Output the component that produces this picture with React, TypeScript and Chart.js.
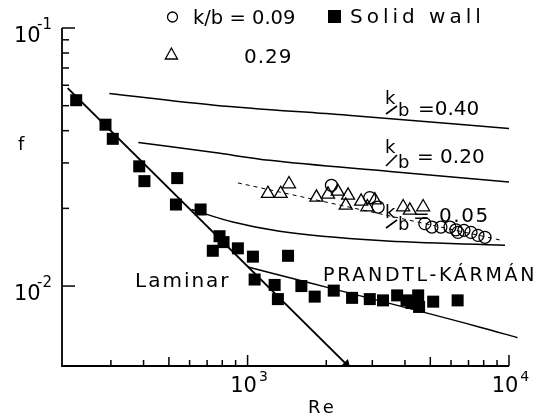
import React, { useEffect, useRef } from "react";
import { Chart, registerables } from "chart.js";
Chart.register(...registerables);

// ---- data (Re, f) ----
const solidRe = [221, 286, 305, 385, 403, 538, 532, 661, 781, 809, 736, 918, 1048, 1428, 1064, 1269, 1306, 1606, 1806, 2136, 2510, 2934, 3297, 3733, 4055, 4237, 4493, 4530, 5128, 6361];
const solidF = [0.0525, 0.0422, 0.0372, 0.0291, 0.0255, 0.0262, 0.0207, 0.0198, 0.0156, 0.0148, 0.0137, 0.014, 0.013, 0.0131, 0.0106, 0.0101, 0.0089, 0.01, 0.0091, 0.0096, 0.009, 0.0089, 0.0088, 0.0092, 0.0088, 0.0086, 0.0092, 0.0083, 0.0087, 0.0088];

const tri029Re = [1196, 1338, 1440, 1834, 2031, 2212, 2423, 2374, 2718, 2871, 3067, 3936, 4176, 4694];
const tri029F = [0.0228, 0.0228, 0.02485, 0.02207, 0.02266, 0.02328, 0.02247, 0.02055, 0.02129, 0.02024, 0.02154, 0.02024, 0.01965, 0.02024];

const circ009Re = [2093, 2934, 3157, 4766, 5070, 5490, 5943, 6266, 6376, 6723, 7153, 7607, 8091];
const circ009F = [0.02457, 0.02202, 0.02024, 0.01745, 0.01693, 0.01693, 0.01693, 0.01652, 0.01614, 0.01644, 0.01614, 0.01572, 0.01545];

const laminarRe = [205, 2390];
const laminarF = [0.0585, 0.00497];

const pkRe = [1003, 7745, 10770];
const pkF = [0.01185, 0.00693, 0.00631];

const kb040Re = [296, 747, 2415, 10000];
const kb040F = [0.0557, 0.0502, 0.0459, 0.0408];

const kb020Re = [382, 747, 1214, 3504, 10000];
const kb020F = [0.036, 0.0329, 0.0307, 0.0278, 0.0253];

const kb005Re = [610, 878, 1326, 3204, 9654];
const kb005F = [0.0198, 0.0177, 0.0163, 0.015, 0.0144];

const fitRe = [918, 9484];
const fitF = [0.0251, 0.015];

const xTickValues = [300, 400, 500, 600, 700, 800, 900, 1000, 2000, 3000, 4000, 5000, 6000, 7000, 8000, 9000, 10000];
const yTickValues = [0.01, 0.02, 0.03, 0.04, 0.05, 0.06, 0.07, 0.08, 0.09, 0.1];
const xLabelExps = [[1000, "3"], [10000, "4"]] as [number, string][];
const yLabelExps = [[0.1, "-1"], [0.01, "-2"]] as [number, string][];

const FONT = '"DejaVu Sans"';

const pts = (xs: number[], ys: number[]) => xs.map((x, i) => ({ x, y: ys[i] }));

function txt(ctx: CanvasRenderingContext2D, s: string, x: number, y: number, size: number, spacing = 0, align: CanvasTextAlign = "left") {
  ctx.font = `${size}px ${FONT}`;
  (ctx as any).letterSpacing = `${spacing}px`;
  ctx.textAlign = align;
  ctx.textBaseline = "alphabetic";
  ctx.fillStyle = "#000";
  ctx.fillText(s, x, y);
  (ctx as any).letterSpacing = "0px";
}

function kbLabel(ctx: CanvasRenderingContext2D, x: number, kBase: number, bBase: number, vx: number, vBase: number, v: string, sp = 0) {
  txt(ctx, "k", x, kBase, 18);
  ctx.beginPath();
  ctx.lineWidth = 1.6;
  ctx.strokeStyle = "#000";
  ctx.moveTo(x + 1, bBase - 2);
  ctx.lineTo(x + 12, kBase + 2);
  ctx.stroke();
  txt(ctx, "b", x + 13, bBase, 18);
  txt(ctx, v, vx, vBase, 20, sp);
}

const overlay = {
  id: "overlay",
  afterDraw(chart: any) {
    const ctx: CanvasRenderingContext2D = chart.ctx;
    const xs = chart.scales.x;
    const ys = chart.scales.y;
    const { left, right, top, bottom } = chart.chartArea;
    ctx.save();
    ctx.strokeStyle = "#000";
    ctx.lineCap = "butt";
    // axes
    ctx.lineWidth = 1.8;
    ctx.beginPath();
    ctx.moveTo(left, top);
    ctx.lineTo(left, bottom);
    ctx.lineTo(right, bottom);
    ctx.stroke();
    // ticks (inward)
    ctx.lineWidth = 1.5;
    xTickValues.forEach((v) => {
      const px = xs.getPixelForValue(v);
      const lg = Math.log10(v);
      const len = Math.abs(lg - Math.round(lg)) < 1e-6 ? 11 : (v === 500 || v === 5000 ? 9 : 6);
      ctx.beginPath();
      ctx.moveTo(px, bottom);
      ctx.lineTo(px, bottom - len);
      ctx.stroke();
    });
    yTickValues.forEach((v) => {
      const py = ys.getPixelForValue(v);
      const lg = Math.log10(v);
      const len = Math.abs(lg - Math.round(lg)) < 1e-6 ? 13 : 7;
      ctx.beginPath();
      ctx.moveTo(left, py);
      ctx.lineTo(left + len, py);
      ctx.stroke();
    });
    // tick labels
    xLabelExps.forEach(([v, e]) => {
      const px = xs.getPixelForValue(v) - 4;
      ctx.font = `21px ${FONT}`;
      const w = ctx.measureText("10").width;
      txt(ctx, "10", px, bottom + 26, 21, 0, "center");
      txt(ctx, e, px + w / 2 + 2, bottom + 15, 14);
    });
    yLabelExps.forEach(([v, e]) => {
      const py = ys.getPixelForValue(v);
      txt(ctx, "10", 14, py + 14, 21);
      txt(ctx, e, 37, py + 1, 15);
    });
    // axis titles
    txt(ctx, "f", 18, 150, 18);
    txt(ctx, "Re", 308, 413, 18, 3);
    // curve labels
    txt(ctx, "Laminar", 135, 287, 20, 2);
    txt(ctx, "PRANDTL-KÁRMÁN", 323, 281, 19, 2.7);
    kbLabel(ctx, 385, 104, 116, 418, 115, "=0.40");
    kbLabel(ctx, 385, 153, 168, 417, 163, "= 0.20");
    kbLabel(ctx, 385, 218, 230, 413, 222, "= 0.05", 1.5);
    // legend
    ctx.lineWidth = 1.3;
    ctx.beginPath();
    ctx.arc(172.5, 17, 5, 0, Math.PI * 2);
    ctx.stroke();
    txt(ctx, "k/b = 0.09", 193, 24, 19.5);
    ctx.fillStyle = "#000";
    ctx.fillRect(328, 10, 13, 13);
    txt(ctx, "Solid wall", 350, 23, 20, 4);
    ctx.beginPath();
    ctx.moveTo(171.4, 48);
    ctx.lineTo(177.5, 59);
    ctx.lineTo(165.3, 59);
    ctx.closePath();
    ctx.stroke();
    txt(ctx, "0.29", 244, 63, 20, 1);
    ctx.restore();
  },
};

export default function App() {
  const ref = useRef<HTMLCanvasElement>(null);
  useEffect(() => {
    document.body.style.margin = "0";
    const lineDs = (label: string, xsA: number[], ysA: number[], extra: any = {}) => ({
      label,
      data: pts(xsA, ysA),
      showLine: true,
      pointRadius: 0,
      borderColor: "#000",
      backgroundColor: "#000",
      borderWidth: 1.5,
      cubicInterpolationMode: "monotone",
      order: 10,
      ...extra,
    });
    const chart = new Chart(ref.current!, {
      type: "scatter",
      data: {
        datasets: [
          {
            label: "Solid wall",
            data: pts(solidRe, solidF),
            pointStyle: "rect",
            pointRadius: 8.5,
            backgroundColor: "#000",
            borderColor: "#000",
            borderWidth: 0,
            order: 1,
          },
          {
            label: "k/b = 0.29",
            data: pts(tri029Re, tri029F),
            pointStyle: "triangle",
            pointRadius: 7.5,
            backgroundColor: "rgba(0,0,0,0)",
            borderColor: "#000",
            borderWidth: 1.3,
            order: 2,
          },
          {
            label: "k/b = 0.09",
            data: pts(circ009Re, circ009F),
            pointStyle: "circle",
            pointRadius: 6,
            backgroundColor: "rgba(0,0,0,0)",
            borderColor: "#000",
            borderWidth: 1.3,
            order: 3,
          },
          lineDs("Laminar", laminarRe, laminarF, {
            borderWidth: 2,
            pointRadius: [0, 3.5],
            pointStyle: "triangle",
            rotation: 135,
          }),
          lineDs("Prandtl-Kármán", pkRe, pkF, { clip: false }),
          lineDs("k/b = 0.40", kb040Re, kb040F),
          lineDs("k/b = 0.20", kb020Re, kb020F),
          lineDs("k/b = 0.05", kb005Re, kb005F),
          lineDs("fit", fitRe, fitF, { borderWidth: 1, borderDash: [4, 4] }),
        ] as any,
      },
      options: {
        animation: false,
        responsive: false,
        devicePixelRatio: 1,
        events: [],
        layout: { padding: { left: 62, right: 38, top: 28, bottom: 50 } },
        plugins: { legend: { display: false }, tooltip: { enabled: false } },
        scales: {
          x: { type: "logarithmic", min: 195, max: 10000, display: false },
          y: { type: "logarithmic", min: 0.0049, max: 0.1, display: false },
        },
      } as any,
      plugins: [overlay],
    });
    return () => chart.destroy();
  }, []);
  return (
    <div style={{ width: 547, height: 416, background: "#fff" }}>
      <canvas ref={ref} width={547} height={416} style={{ display: "block" }} />
    </div>
  );
}
